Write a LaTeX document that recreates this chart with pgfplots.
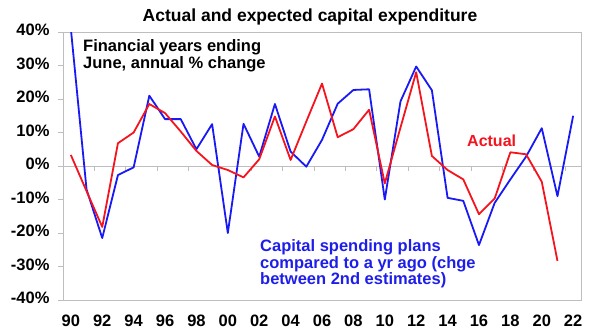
\documentclass[border=0pt]{standalone}
\usepackage{pgfplots}
\pgfplotsset{compat=1.18}
\usepackage{fontspec}
\setmainfont{Liberation Sans}
\definecolor{lblue}{RGB}{25,25,245}
\definecolor{tblue}{RGB}{30,30,235}
\definecolor{lred}{RGB}{245,20,30}
\definecolor{fgray}{RGB}{190,190,190}
\begin{document}
\begin{tikzpicture}[x=1bp,y=1bp]
\useasboundingbox (0,0) rectangle (591,334);
\begin{axis}[
  at={(63bp,34bp)}, anchor=south west,
  scale only axis, width=518bp, height=268bp,
  xmin=-0.5, xmax=32.5, ymin=-40, ymax=40,
  axis line style={fgray, line width=1bp},
  xtick={0,2,...,32},
  xticklabels={90,92,94,96,98,00,02,04,06,08,10,12,14,16,18,20,22},
  xtick style={draw=none},
  ytick={-40,-30,...,40},
  yticklabels={-40\%,-30\%,-20\%,-10\%,0\%,10\%,20\%,30\%,40\%},
  ytick pos=left, tick align=outside, major tick length=5bp,
  ytick style={fgray, line width=1bp},
  tick label style={font=\fontsize{16.5bp}{18bp}\selectfont\bfseries, text=black},
  typeset ticklabels with strut,
  xticklabel style={yshift=-5bp},
  yticklabel style={xshift=-5bp},
  clip=true,
]
\draw[fgray, line width=1bp] (axis cs:-0.5,0) -- (axis cs:32.5,0);
\pgfplotsinvokeforeach{1.5,3.5,...,31.5}{\draw[fgray, line width=1bp] (axis cs:#1,0) -- ([yshift=-5bp]axis cs:#1,0);}
\addplot[lblue, line width=1.8bp, line join=round] coordinates {
(0,41) (1,-7) (2,-21.5) (3,-2.7) (4,-0.4) (5,21) (6,14) (7,14) (8,5) (9,12.5)
(10,-20) (11,12.6) (12,2.8) (13,18.5) (14,4.3) (15,-0.2) (16,7.8) (17,18.6) (18,22.7) (19,22.9)
(20,-10) (21,19.3) (22,29.7) (23,22.6) (24,-9.5) (25,-10.4) (26,-23.6) (27,-11) (28,-4) (29,2.8)
(30,11.3) (31,-9) (32,15)
};
\addplot[lred, line width=1.8bp, line join=round] coordinates {
(0,3.3) (1,-7.5) (2,-18.2) (3,6.8) (4,10) (5,18.5) (6,15.8) (7,10.3) (8,4.5) (9,0.3)
(10,-1.2) (11,-3.4) (12,2) (13,14.8) (14,1.8) (15,13.3) (16,24.6) (17,8.6) (18,11) (19,16.8)
(20,-5.2) (21,11.5) (22,28) (23,3) (24,-1.2) (25,-4) (26,-14.4) (27,-9.7) (28,4.1) (29,3.5)
(30,-4.7) (31,-28.3)
};
\end{axis}
\node[anchor=base, inner sep=0, font=\fontsize{17.5bp}{20bp}\selectfont\bfseries] at (310,313) {Actual and expected capital expenditure};
\node[anchor=base west, inner sep=0, font=\fontsize{16.5bp}{18bp}\selectfont\bfseries] at (83,283) {Financial years ending};
\node[anchor=base west, inner sep=0, font=\fontsize{16.5bp}{18bp}\selectfont\bfseries] at (83,266) {June, annual \% change};
\node[anchor=base west, inner sep=0, text=lred, font=\fontsize{16bp}{18bp}\selectfont\bfseries] at (467,188) {Actual};
\node[anchor=base west, inner sep=0, text=tblue, font=\fontsize{16.5bp}{18bp}\selectfont\bfseries] at (260,83) {Capital spending plans};
\node[anchor=base west, inner sep=0, text=tblue, font=\fontsize{16.5bp}{18bp}\selectfont\bfseries] at (260,66) {compared to a yr ago (chge};
\node[anchor=base west, inner sep=0, text=tblue, font=\fontsize{16.5bp}{18bp}\selectfont\bfseries] at (260,50) {between 2nd estimates)};
\end{tikzpicture}
\end{document}
